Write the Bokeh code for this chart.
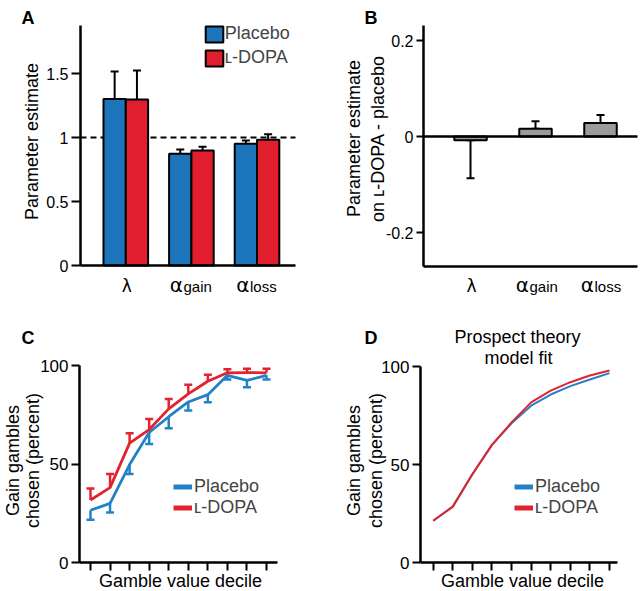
from math import pi
from bokeh.plotting import figure
from bokeh.models import (ColumnDataSource, Whisker, TeeHead, Label, Legend,
                          LegendItem, FixedTicker, Range1d)
from bokeh.layouts import column, row
from bokeh.embed import file_html
from bokeh.resources import INLINE

# ---------------- data ----------------
param_idx = [0, 1, 2]
param_greek = ["λ", "α", "α"]
param_sub = ["", "gain", "loss"]
placebo_est = [1.30, 0.873, 0.951]
placebo_sem = [0.215, 0.033, 0.026]
ldopa_est = [1.297, 0.898, 0.982]
ldopa_sem = [0.226, 0.029, 0.044]

diff_est = [-0.008, 0.016, 0.028]
diff_sem = [0.079, 0.016, 0.017]

deciles = [1, 2, 3, 4, 5, 6, 7, 8, 9, 10]
obs_placebo = [26.5, 30.0, 49.7, 66.0, 74.0, 81.5, 85.2, 95.0, 92.4, 95.0]
obs_placebo_sem = [4.8, 4.6, 4.8, 5.8, 5.9, 4.4, 3.9, 2.1, 3.4, 2.1]
obs_ldopa = [31.7, 38.0, 60.6, 67.5, 78.0, 85.6, 92.0, 96.3, 96.4, 96.3]
obs_ldopa_sem = [5.9, 6.9, 5.0, 5.4, 5.0, 4.6, 3.3, 1.8, 1.9, 2.0]
fit_placebo = [21.3, 28.5, 45.0, 60.0, 71.0, 80.0, 85.7, 90.0, 93.4, 96.6]
fit_ldopa = [21.3, 28.5, 45.0, 60.0, 71.5, 81.7, 87.7, 92.0, 95.4, 98.0]

ticks_A = [0, 0.5, 1, 1.5]
tick_labels_A = ["0", "0.5", "1", "1.5"]
ticks_B = [-0.2, 0, 0.2]
tick_labels_B = ["-0.2", "0", "0.2"]
ticks_pct = [0, 50, 100]
tick_labels_pct = ["0", "50", "100"]
reference_A = 1.0
zero_B = 0.0

# ---------------- style ----------------
FONT = "Liberation Sans"
GREEK_FONT = "DejaVu Sans"
BLUE_BAR = "#1c74ba"
RED_BAR = "#e01e2d"
GRAY_BAR = "#9b9b9b"
BLUE_LINE = "#2382c7"
RED_LINE = "#e2232f"
DODGE = 0.17
NAN = float("nan")
BASE_SHIFT = 0.26   # Bokeh sets the text box bottom (not the baseline) at the anchor


class Panel:
    """A figure whose frame fills the whole figure; axes are drawn at fixed spots."""

    def __init__(self, box, frame, xlim, ylim, tick_out=8, standoff=3, label_size=16):
        self.left, self.top, self.w, self.h = box
        L, R, T, B = frame
        sx = (R - L) / (xlim[1] - xlim[0])
        sy = (B - T) / (ylim[1] - ylim[0])
        self.sx = sx
        xr = (xlim[0] - (L - self.left) / sx, xlim[1] + (self.left + self.w - R) / sx)
        yr = (ylim[0] - (self.top + self.h - B) / sy, ylim[1] + (T - self.top) / sy)
        p = figure(width=self.w, height=self.h, output_backend="svg", toolbar_location=None,
                   x_range=Range1d(*xr), y_range=Range1d(*yr), min_border=0)
        p.grid.visible = False
        p.outline_line_color = None
        p.background_fill_color = "white"
        p.border_fill_color = "white"
        p.xaxis.fixed_location = ylim[0]
        p.xaxis.bounds = xlim
        p.yaxis.fixed_location = xlim[0]
        p.yaxis.bounds = ylim
        for ax in (p.xaxis[0], p.yaxis[0]):
            ax.axis_line_width = 2.5
            ax.axis_line_color = "black"
            ax.major_tick_line_width = 2
            ax.major_tick_line_color = "black"
            ax.minor_tick_line_color = None
            ax.major_tick_in = 0
            ax.major_tick_out = tick_out
            ax.major_label_text_font = FONT
            ax.major_label_text_font_size = f"{label_size}px"
            ax.major_label_text_color = "black"
            ax.major_label_standoff = standoff
        self.p = p
        self.xlim = xlim
        self.frame = frame

    def sx_of(self, x):
        return self.frame[0] + (x - self.xlim[0]) * self.sx

    def hline(self, y, **kw):
        # horizontal rule spanning the axis extent
        self.p.segment(x0=[self.xlim[0]], x1=[self.xlim[1]], y0=[y], y1=[y], **kw)

    def text(self, px, py, text, size, align="left", angle=0.0, bold=False, font=FONT):
        # (px, py): page position of the text baseline
        d = BASE_SHIFT * size
        if angle:
            px = px - d
        else:
            py = py - d
        self.p.add_layout(Label(
            x=px - self.left, y=self.top + self.h - py, x_units="screen", y_units="screen",
            text=text, text_font=font, text_font_size=f"{size}px",
            text_align=align, text_baseline="alphabetic", angle=angle,
            text_font_style="bold" if bold else "normal", text_color="black"))

    def legend(self, items, px, py_bottom, **kw):
        opts = dict(padding=0, margin=0, label_text_font=FONT,
                    border_line_color=None, background_fill_alpha=0)
        opts.update(kw)
        self.p.add_layout(Legend(items=items,
                                 location=(px - self.left, self.top + self.h - py_bottom),
                                 **opts))


def category_labels(panel, junction_offsets, py):
    for i, j, g, s in zip(param_idx, junction_offsets, param_greek, param_sub):
        c = panel.sx_of(i)
        if s:
            panel.text(c + j, py, g, 20, align="right", font=GREEK_FONT)
            panel.text(c + j + 0.5, py, s, 15, align="left")
        else:
            panel.text(c + 1, py, g, 17, align="center", font=GREEK_FONT)


# ================= Panel A =================
FA = (80, 295, 25, 265)
pxA = 65.6
xA0 = -(125.3 - FA[0]) / pxA
A = Panel((0, 0, 320, 298), FA, (xA0, xA0 + (FA[1] - FA[0]) / pxA),
          (0, (FA[3] - FA[2]) / 128.0), tick_out=9, standoff=3)
pA = A.p
pA.xaxis.ticker = FixedTicker(ticks=[])
pA.yaxis.ticker = FixedTicker(ticks=ticks_A)
pA.yaxis.major_label_overrides = dict(zip(ticks_A, tick_labels_A))

srcA = ColumnDataSource(dict(
    xp=[i - DODGE for i in param_idx], xl=[i + DODGE for i in param_idx],
    placebo=placebo_est, ldopa=ldopa_est,
    placebo_hi=[v + e for v, e in zip(placebo_est, placebo_sem)],
    ldopa_hi=[v + e for v, e in zip(ldopa_est, ldopa_sem)],
))
A.hline(reference_A, line_color="black", line_width=2, line_dash="6 4")
for base, lo, hi in (("xp", "placebo", "placebo_hi"), ("xl", "ldopa", "ldopa_hi")):
    pA.add_layout(Whisker(source=srcA, base=base, lower=lo, upper=hi, dimension="height",
                          line_color="black", line_width=2,
                          upper_head=TeeHead(size=8, line_color="black", line_width=2),
                          lower_head=None, level="underlay"))
barA1 = pA.vbar(x="xp", top="placebo", width=2 * DODGE, source=srcA,
                fill_color=BLUE_BAR, line_color="black", line_width=2)
barA2 = pA.vbar(x="xl", top="ldopa", width=2 * DODGE, source=srcA,
                fill_color=RED_BAR, line_color="black", line_width=2)
A.legend([LegendItem(label="Placebo", renderers=[barA1]),
          LegendItem(label="ʟ-DOPA", renderers=[barA2])],
         202.8, 68, glyph_width=22, glyph_height=20, label_height=20, spacing=3,
         label_standoff=0, label_text_font_size="18px")
A.text(21, 22, "A", 18, bold=True)
A.text(36.5, 141, "Parameter estimate", 18, align="center", angle=pi / 2)
category_labels(A, [0, -8.4, -7.5], 289.5)

# ================= Panel B =================
FB = (423, 637, 25, 266)
pxB = 65.0
xB0 = -(470 - FB[0]) / pxB
zpx = 136
B = Panel((320, 0, 320, 298), FB, (xB0, xB0 + (FB[1] - FB[0]) / pxB),
          (-(FB[3] - zpx) / 480.0, (zpx - FB[2]) / 480.0), tick_out=7, standoff=3)
pB = B.p
pB.xaxis.ticker = FixedTicker(ticks=[])
pB.yaxis.ticker = FixedTicker(ticks=ticks_B)
pB.yaxis.major_label_overrides = dict(zip(ticks_B, tick_labels_B))

ends = [v + (e if v >= 0 else -e) for v, e in zip(diff_est, diff_sem)]
srcB = ColumnDataSource(dict(
    x=param_idx, diff=diff_est,
    lo=[min(v, t) for v, t in zip(diff_est, ends)],
    hi=[max(v, t) for v, t in zip(diff_est, ends)],
))
pB.add_layout(Whisker(source=srcB, base="x", lower="lo", upper="hi", dimension="height",
                      line_color="black", line_width=2,
                      upper_head=TeeHead(size=8, line_color="black", line_width=2),
                      lower_head=TeeHead(size=8, line_color="black", line_width=2),
                      level="underlay"))
pB.vbar(x="x", top="diff", bottom=zero_B, width=0.5, source=srcB,
        fill_color=GRAY_BAR, line_color="black", line_width=2)
B.hline(zero_B, line_color="black", line_width=2.5)
B.text(364, 22, "B", 18, bold=True)
B.text(358, 138, "Parameter estimate", 18, align="center", angle=pi / 2)
B.text(382, 138, "on ʟ-DOPA - placebo", 18, align="center", angle=pi / 2)
category_labels(B, [0, -6.5, -6.5], 289.5)


# ================= Panels C & D =================
def decile_axes(p):
    p.xaxis.ticker = FixedTicker(ticks=deciles)
    p.xaxis.major_label_text_color = None
    p.yaxis.ticker = FixedTicker(ticks=ticks_pct)
    p.yaxis.major_label_overrides = dict(zip(ticks_pct, tick_labels_pct))


def line_legend(panel, px, py_bottom):
    rb = panel.p.line([NAN], [NAN], line_color=BLUE_LINE, line_width=5)
    rr = panel.p.line([NAN], [NAN], line_color=RED_LINE, line_width=5)
    panel.legend([LegendItem(label="Placebo", renderers=[rb]),
                  LegendItem(label="ʟ-DOPA", renderers=[rr])],
                 px, py_bottom, glyph_width=19, glyph_height=19, label_height=19,
                 spacing=0, label_standoff=2, label_text_font_size="18px")


FC = (79, 277, 365, 562)
pxC = (266 - 90) / 9
xC0 = 1 - (90 - FC[0]) / pxC
C = Panel((0, 298, 320, 293), FC, (xC0, xC0 + (FC[1] - FC[0]) / pxC), (0, 100),
          tick_out=8, standoff=3, label_size=17)
pC = C.p
decile_axes(pC)
srcC = ColumnDataSource(dict(
    d=deciles, pl=obs_placebo, ld=obs_ldopa,
    pl_lo=[v - e for v, e in zip(obs_placebo, obs_placebo_sem)],
    ld_hi=[v + e for v, e in zip(obs_ldopa, obs_ldopa_sem)],
))
pC.add_layout(Whisker(source=srcC, base="d", lower="pl_lo", upper="pl", dimension="height",
                      line_color=BLUE_LINE, line_width=2.5, upper_head=None,
                      lower_head=TeeHead(size=8, line_color=BLUE_LINE, line_width=2.5)))
pC.add_layout(Whisker(source=srcC, base="d", lower="ld", upper="ld_hi", dimension="height",
                      line_color=RED_LINE, line_width=2.5, lower_head=None,
                      upper_head=TeeHead(size=8, line_color=RED_LINE, line_width=2.5)))
pC.line("d", "pl", source=srcC, line_color=BLUE_LINE, line_width=2.8)
pC.line("d", "ld", source=srcC, line_color=RED_LINE, line_width=2.8)
line_legend(C, 173, 517.5)
C.text(21, 342, "C", 18, bold=True)
C.text(17.5, 460, "Gain gambles", 18, align="center", angle=pi / 2)
C.text(37, 460, "chosen (percent)", 18, align="center", angle=pi / 2)
C.text(180, 585, "Gamble value decile", 18, align="center")

FD = (420, 617, 366, 562)
pxD = (609 - 432.7) / 9
xD0 = 1 - (432.7 - FD[0]) / pxD
D = Panel((320, 298, 320, 293), FD, (xD0, xD0 + (FD[1] - FD[0]) / pxD), (0, 100),
          tick_out=8, standoff=3, label_size=17)
pD = D.p
decile_axes(pD)
srcD = ColumnDataSource(dict(d=deciles, pl=fit_placebo, ld=fit_ldopa))
pD.line("d", "pl", source=srcD, line_color=BLUE_LINE, line_width=2)
pD.line("d", "ld", source=srcD, line_color=RED_LINE, line_width=2)
line_legend(D, 514, 517.5)
D.text(364, 342, "D", 18, bold=True)
D.text(517, 341, "Prospect theory", 18, align="center")
D.text(518, 362, "model fit", 18, align="center")
D.text(358, 460, "Gain gambles", 18, align="center", angle=pi / 2)
D.text(380, 460, "chosen (percent)", 18, align="center", angle=pi / 2)
D.text(522, 585, "Gamble value decile", 18, align="center")

layout = column(row(pA, pB), row(pC, pD))
open("out.html", "w").write(file_html(layout, INLINE))
